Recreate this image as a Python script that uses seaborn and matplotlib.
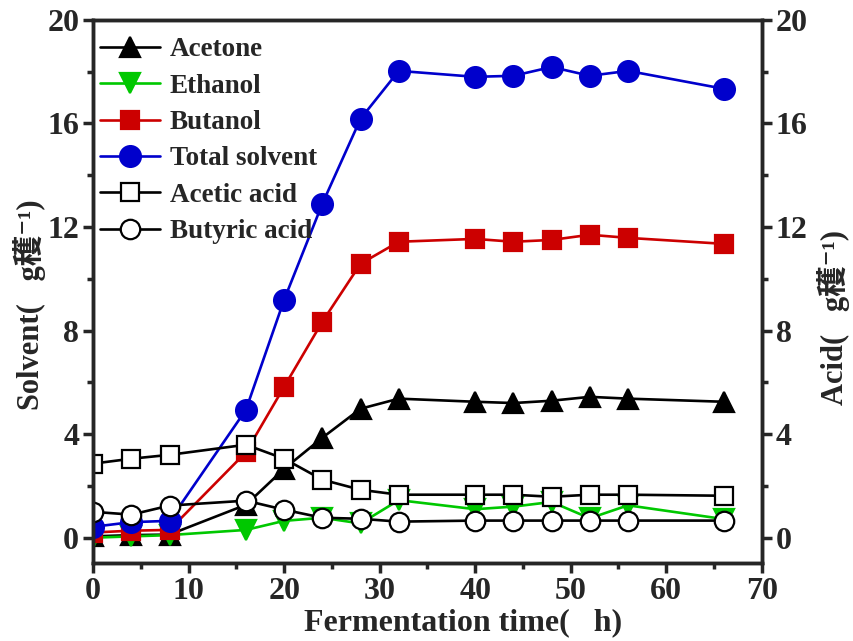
import matplotlib
matplotlib.use("Agg")
import matplotlib.pyplot as plt
import seaborn as sns
import numpy as np
from matplotlib.ticker import MultipleLocator

time = [0, 4, 8, 16, 20, 24, 28, 32, 40, 44, 48, 52, 56, 66]
acetone = [0.05, 0.1, 0.12, 1.27, 2.66, 3.86, 4.98, 5.37, 5.25, 5.2, 5.29, 5.44, 5.37, 5.25]
ethanol = [0.0, 0.05, 0.1, 0.3, 0.65, 0.77, 0.55, 1.45, 1.1, 1.2, 1.38, 0.75, 1.25, 0.72]
butanol = [0.2, 0.27, 0.3, 3.3, 5.83, 8.34, 10.58, 11.43, 11.54, 11.43, 11.5, 11.7, 11.58, 11.35]
total_solvent = [0.42, 0.6, 0.65, 4.94, 9.19, 12.9, 16.18, 18.03, 17.8, 17.84, 18.18, 17.84, 18.03, 17.34]
acetic_acid = [2.86, 3.05, 3.2, 3.59, 3.05, 2.24, 1.85, 1.66, 1.66, 1.66, 1.58, 1.66, 1.66, 1.62]
butyric_acid = [1.0, 0.89, 1.24, 1.43, 1.08, 0.77, 0.73, 0.62, 0.66, 0.66, 0.66, 0.66, 0.66, 0.66]

series_names = ["Acetone", "Ethanol", "Butanol", "Total solvent", "Acetic acid", "Butyric acid"]
yticks = [0, 4, 8, 12, 16, 20]

sns.set_style("ticks")
fam = ['Liberation Serif', 'Noto Sans CJK SC', 'DejaVu Serif']
plt.rcParams['font.family'] = fam
plt.rcParams['font.weight'] = 'bold'

fig = plt.figure(figsize=(8.54, 6.41), dpi=100)
ax = fig.add_axes([0.109, 0.122, 0.783, 0.847])

styles = [
    dict(marker='^', color='black', mfc='black', mec='black', ms=15),
    dict(marker='v', color='#00c800', mfc='#00c800', mec='#00c800', ms=15),
    dict(marker='s', color='#cc0000', mfc='#cc0000', mec='#cc0000', ms=13),
    dict(marker='o', color='#0000cc', mfc='#0000cc', mec='#0000cc', ms=15),
    dict(marker='s', color='black', mfc='white', mec='black', ms=13),
    dict(marker='o', color='black', mfc='white', mec='black', ms=14),
]
data = [acetone, ethanol, butanol, total_solvent, acetic_acid, butyric_acid]

for name, vals, st in zip(series_names, data, styles):
    sns.lineplot(x=time, y=vals, ax=ax, label=name, color=st['color'],
                 marker=st['marker'], markersize=st['ms'],
                 markerfacecolor=st['mfc'], markeredgecolor=st['mec'],
                 markeredgewidth=1.6, linewidth=1.9)

ax.set_xlim(0, 70)
ax.set_ylim(-0.97, 20)
ax.xaxis.set_major_locator(MultipleLocator(10))
ax.xaxis.set_minor_locator(MultipleLocator(5))
ax.set_yticks(yticks)
ax.yaxis.set_minor_locator(MultipleLocator(2))

for sp in ax.spines.values():
    sp.set_linewidth(2.5)
    sp.set_visible(True)

ax.tick_params(axis='both', which='major', direction='out', length=7, width=2.5,
               labelsize=23, pad=3)
ax.tick_params(axis='both', which='minor', direction='out', length=4, width=2.5)
for lab in ax.get_xticklabels() + ax.get_yticklabels():
    lab.set_fontweight('bold')

ax2 = ax.twinx()
ax2.set_ylim(ax.get_ylim())
ax2.set_yticks(yticks)
ax2.yaxis.set_minor_locator(MultipleLocator(2))
ax2.tick_params(axis='y', which='major', direction='out', length=7, width=2.5,
                labelsize=23, pad=3)
ax2.tick_params(axis='y', which='minor', direction='out', length=4, width=2.5)
for lab in ax2.get_yticklabels():
    lab.set_fontweight('bold')
for sp in ax2.spines.values():
    sp.set_linewidth(2.5)

ax.set_xlabel("Fermentation time(   h)", fontsize=23, fontweight='bold', family=fam)
ax.xaxis.set_label_coords(0.553, -0.083)
ax.set_ylabel("Solvent(   g穫⁻¹)", fontsize=22, fontweight='bold', family=fam)
ax.yaxis.set_label_coords(-0.07, 0.475)
ax2.set_ylabel("Acid(   g穫⁻¹)", fontsize=22, fontweight='bold', family=fam)
ax2.yaxis.set_label_coords(1.082, 0.451)

leg = ax.legend(loc='upper left', bbox_to_anchor=(0.0105, 0.968), frameon=False,
                handlelength=2.2, borderaxespad=0, borderpad=0,
                labelspacing=0.42, handletextpad=0.37,
                prop={'weight': 'bold', 'size': 19.5, 'family': 'Liberation Serif'})

fig.savefig("out.png", dpi=100)
